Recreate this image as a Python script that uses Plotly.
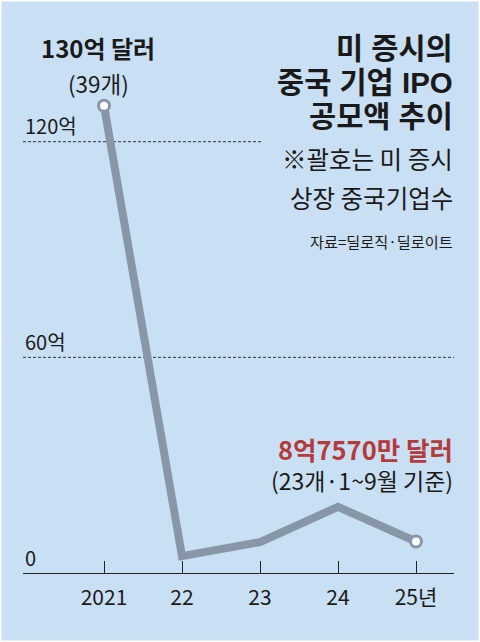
import plotly.graph_objects as go

# ---- data ----
years = ["2021", "22", "23", "24", "25년"]
values = [130, 4.7, 8.6, 18.4, 8.757]   # 억 달러
y_ticks = [0, 60, 120]
y_tick_labels = ["0", "60억", "120억"]
first_label = ["130억 달러", "(39개)"]
last_label = ["8억7570만 달러", "(23개·1~9월 기준)"]
title_lines = ["미 증시의", "중국 기업 IPO", "공모액 추이"]
note_lines = ["※괄호는 미 증시", "상장 중국기업수"]
source = "자료=딜로직·딜로이트"

W, H = 480, 642
BG = "#c9dff4"
LINE = "#8797a8"
RED = "#b53a3b"
TXT = "#1a1a1a"
FONT = "Liberation Sans Narrow, Noto Sans CJK KR, sans-serif"
KFONT = "Noto Sans CJK KR, sans-serif"
TFONT = "Liberation Sans, Noto Sans CJK KR, sans-serif"
RX = 455  # right edge of right-aligned texts (px)

def px(x):
    return x / W

def py(y):
    return (H - y) / H

xs = list(range(len(years)))

# axis geometry (pixels)
ax_left, ax_right = 23, 454
ax_bottom, ax_top = 573, 20
x0_px, dx_px = 104, 78
scale = (573 - 141.7) / 120.0
x_range = [(ax_left - x0_px) / dx_px, (ax_right - x0_px) / dx_px]
y_range = [0, (ax_bottom - ax_top) / scale]

fig = go.Figure()
fig.add_trace(go.Scatter(
    x=xs, y=values, mode="lines",
    line=dict(color=LINE, width=8),
    hoverinfo="skip", cliponaxis=False,
))
fig.add_trace(go.Scatter(
    x=[xs[0], xs[-1]], y=[values[0], values[-1]], mode="markers",
    marker=dict(size=11, color="white", line=dict(color=LINE, width=3)),
    hoverinfo="skip", cliponaxis=False,
))

shapes = [dict(type="rect", xref="paper", yref="paper", x0=0, x1=1, y0=0, y1=1,
               fillcolor=BG, line=dict(color="white", width=3), layer="below")]
grid_ends = {60: 454, 120: 261}
for v in y_ticks:
    if v in grid_ends:
        shapes.append(dict(type="line", xref="paper", yref="y",
                           x0=px(ax_left), x1=px(grid_ends[v]), y0=v, y1=v,
                           line=dict(color="#333333", width=1, dash="3px,2px"),
                           layer="below"))

ann = []
for v, t in zip(y_ticks, y_tick_labels):
    ann.append(dict(x=px(ax_left), y=v, xref="paper", yref="y", text=t,
                    xanchor="left", yanchor="middle", yshift=16, showarrow=False,
                    font=dict(family=FONT, size=20, color=TXT)))

ann.append(dict(x=xs[0], y=values[0], xref="x", yref="y", text="<b>" + first_label[0] + "</b>",
                xanchor="center", yanchor="middle", xshift=-6, yshift=58, showarrow=False,
                font=dict(family=FONT, size=24, color=TXT)))
ann.append(dict(x=xs[0], y=values[0], xref="x", yref="y", text=first_label[1],
                xanchor="center", yanchor="middle", xshift=-6, yshift=23, showarrow=False,
                font=dict(family=FONT, size=22.5, color=TXT)))

ann.append(dict(x=px(RX), y=py(448), xref="paper", yref="paper", text="<b>" + last_label[0] + "</b>",
                xanchor="right", yanchor="middle", showarrow=False, height=30,
                font=dict(family=FONT, size=25.5, color=RED)))
ann.append(dict(x=px(RX), y=py(480), xref="paper", yref="paper", text=last_label[1],
                xanchor="right", yanchor="middle", showarrow=False, height=30,
                font=dict(family=FONT, size=23, color=TXT)))

for i, t in enumerate(title_lines):
    ann.append(dict(x=px(RX), y=py(48 + 34 * i), xref="paper", yref="paper", text="<b>" + t + "</b>",
                    xanchor="right", yanchor="middle", showarrow=False,
                    font=dict(family=TFONT, size=29.5, color=TXT)))
for i, t in enumerate(note_lines):
    ann.append(dict(x=px(RX), y=py(158 + 39 * i), xref="paper", yref="paper", text=t,
                    xanchor="right", yanchor="middle", showarrow=False,
                    font=dict(family=KFONT, size=24.5, color=TXT)))
ann.append(dict(x=px(RX), y=py(241), xref="paper", yref="paper", text=source,
                xanchor="right", yanchor="middle", showarrow=False,
                font=dict(family=KFONT, size=15.2, color=TXT)))

fig.update_layout(
    width=W, height=H,
    margin=dict(l=0, r=0, t=0, b=0),
    paper_bgcolor="white", plot_bgcolor="rgba(0,0,0,0)",
    showlegend=False,
    shapes=shapes, annotations=ann,
    xaxis=dict(domain=[px(ax_left), px(ax_right)], range=x_range,
               tickvals=xs, ticktext=years, ticks="inside", ticklen=12,
               tickcolor="#222222", tickwidth=1,
               showline=True, linecolor="#222222", linewidth=1,
               showgrid=False, zeroline=False, fixedrange=True,
               ticklabelstandoff=6,
               tickfont=dict(family=FONT, size=21, color=TXT)),
    yaxis=dict(domain=[py(ax_bottom), py(ax_top)], range=y_range,
               showticklabels=False, showgrid=False, zeroline=False,
               showline=False, fixedrange=True),
)

fig.write_html("out.html", config={"displayModeBar": False},
               post_script="document.body.style.margin='0';document.body.style.overflow='hidden';")
